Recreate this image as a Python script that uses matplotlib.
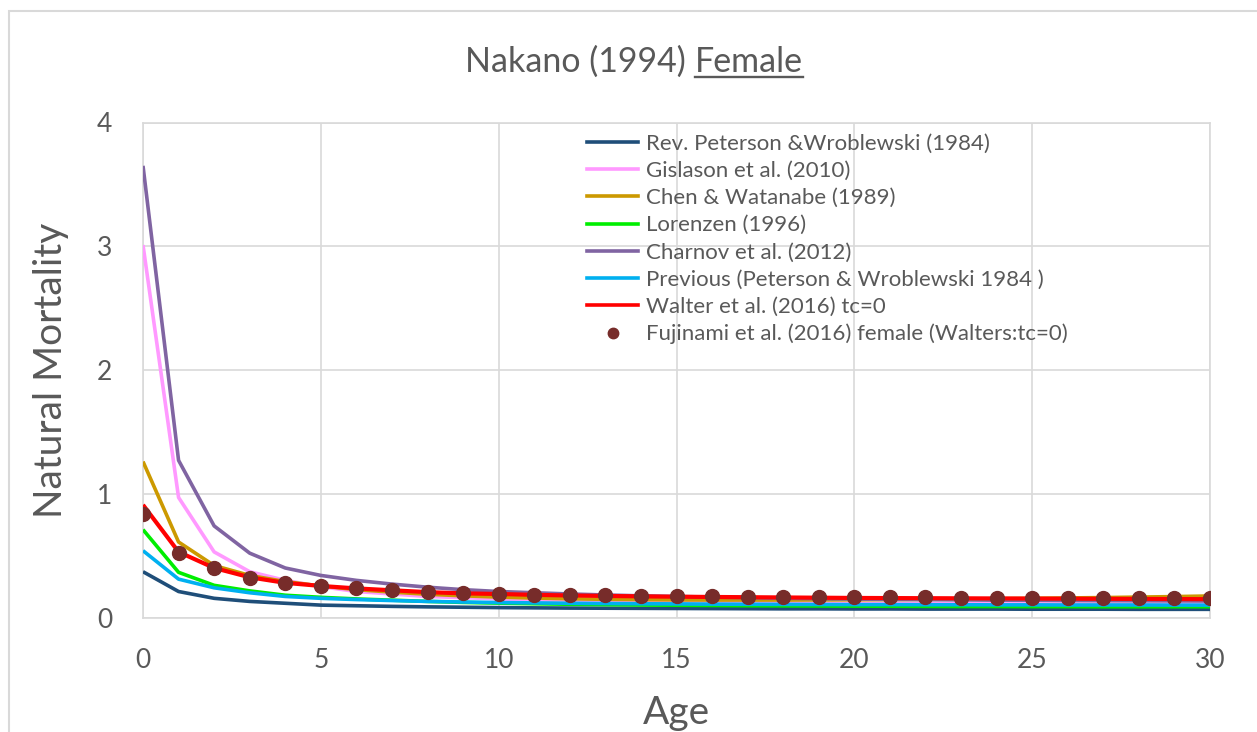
import matplotlib
matplotlib.use("Agg")
import matplotlib.pyplot as plt
from matplotlib.patches import Rectangle
from matplotlib.lines import Line2D

plt.rcParams["font.family"] = ["Lato", "DejaVu Sans"]

ages = list(range(31))

rev_peterson = [0.37, 0.21, 0.155, 0.13, 0.115, 0.10, 0.095, 0.09, 0.086, 0.083, 0.08,
                0.078, 0.076, 0.075, 0.074, 0.073, 0.072, 0.071, 0.07, 0.07, 0.069,
                0.069, 0.068, 0.068, 0.068, 0.067, 0.067, 0.067, 0.066, 0.066, 0.066]
gislason = [3.01, 0.97, 0.53, 0.37, 0.30, 0.25, 0.21, 0.19, 0.17, 0.16, 0.15,
            0.142, 0.136, 0.131, 0.127, 0.124, 0.121, 0.119, 0.117, 0.115, 0.114,
            0.113, 0.112, 0.111, 0.11, 0.109, 0.108, 0.107, 0.107, 0.106, 0.106]
chen_watanabe = [1.26, 0.61, 0.42, 0.34, 0.29, 0.255, 0.225, 0.205, 0.188, 0.175, 0.165,
                 0.157, 0.151, 0.147, 0.144, 0.142, 0.141, 0.141, 0.141, 0.142, 0.143,
                 0.145, 0.147, 0.149, 0.152, 0.155, 0.158, 0.161, 0.165, 0.169, 0.174]
lorenzen = [0.71, 0.365, 0.26, 0.215, 0.18, 0.163, 0.15, 0.14, 0.13, 0.122, 0.116,
            0.111, 0.107, 0.104, 0.101, 0.099, 0.097, 0.095, 0.094, 0.093, 0.092,
            0.091, 0.09, 0.089, 0.089, 0.088, 0.088, 0.087, 0.087, 0.087, 0.087]
charnov = [3.65, 1.27, 0.74, 0.52, 0.40, 0.34, 0.30, 0.27, 0.245, 0.225, 0.21,
           0.2, 0.19, 0.182, 0.175, 0.17, 0.165, 0.16, 0.156, 0.152, 0.149,
           0.146, 0.144, 0.142, 0.14, 0.139, 0.137, 0.136, 0.135, 0.134, 0.133]
previous = [0.54, 0.31, 0.24, 0.20, 0.17, 0.155, 0.145, 0.137, 0.13, 0.125, 0.121,
            0.118, 0.115, 0.113, 0.111, 0.11, 0.108, 0.107, 0.106, 0.105, 0.104,
            0.104, 0.103, 0.103, 0.102, 0.102, 0.101, 0.101, 0.101, 0.1, 0.1]
walter = [0.91, 0.53, 0.40, 0.325, 0.28, 0.255, 0.235, 0.22, 0.205, 0.195, 0.19,
          0.183, 0.178, 0.174, 0.171, 0.168, 0.166, 0.164, 0.162, 0.16, 0.158,
          0.157, 0.156, 0.155, 0.154, 0.153, 0.152, 0.151, 0.15, 0.149, 0.148]
fujinami = [0.84, 0.52, 0.40, 0.32, 0.28, 0.255, 0.235, 0.22, 0.205, 0.195, 0.19,
            0.185, 0.18, 0.178, 0.175, 0.172, 0.17, 0.168, 0.166, 0.165, 0.164,
            0.163, 0.162, 0.161, 0.161, 0.16, 0.16, 0.16, 0.16, 0.16, 0.16]

series = [
    ("Rev. Peterson &Wroblewski (1984)", rev_peterson, "#1f4e79", 2.6),
    ("Gislason et al. (2010)", gislason, "#ff99ff", 2.6),
    ("Chen & Watanabe (1989)", chen_watanabe, "#cc9900", 2.6),
    ("Lorenzen (1996)", lorenzen, "#00ee00", 2.6),
    ("Charnov et al. (2012)", charnov, "#8064a2", 2.6),
    ("Previous (Peterson & Wroblewski 1984 )", previous, "#00b0f0", 2.6),
    ("Walter et al. (2016) tc=0", walter, "#ff0000", 3.0),
]
dot_label = "Fujinami et al. (2016) female (Walters:tc=0)"

text_color = "#595959"
grid_color = "#d9d9d9"

W, H = 1257, 732
fig = plt.figure(figsize=(W / 100, H / 100), dpi=100)

# chart area border (Excel style), runs off the right/bottom edges
fig.patches.append(Rectangle((9 / W, -0.1), 1.2, 1 - 11 / H + 0.1, transform=fig.transFigure,
                             fill=False, edgecolor=grid_color, linewidth=1.5))

ax = fig.add_axes((143 / W, 1 - 617.5 / H, (1210 - 143) / W, (617.5 - 122.5) / H))

handles = []
for label, vals, color, lw in series:
    ax.plot(ages, vals, color=color, lw=lw, solid_capstyle="butt", zorder=3)
    handles.append(Line2D([], [], color=color, lw=2.6, label=label))
ax.plot(ages, fujinami, ls="none", marker="o", ms=10, color="#772c2a", zorder=4)
handles.append(Line2D([], [], ls="none", marker="o", ms=7.5, color="#772c2a", label=dot_label))

ax.set_xlim(0, 30)
ax.set_ylim(0, 4)
ax.set_xticks(range(0, 31, 5))
ax.set_yticks(range(0, 5))
ax.grid(True, color=grid_color, lw=1.2)
ax.set_axisbelow(True)
for sp in ax.spines.values():
    sp.set_color(grid_color)
    sp.set_linewidth(1.2)
ax.tick_params(length=0, labelsize=19, colors=text_color, pad=22)

ax.set_xlabel("Age", fontsize=28, color=text_color, labelpad=16)
ax.set_ylabel("Natural Mortality", fontsize=28, color=text_color, labelpad=20)

leg = ax.legend(handles=handles, loc="upper left", bbox_to_anchor=(587 / W, 1 - 134 / H),
                bbox_transform=fig.transFigure, frameon=False, fontsize=16,
                labelcolor=text_color, handlelength=2.3, handletextpad=0.36,
                labelspacing=0.32, borderpad=0, borderaxespad=0)

# title with underlined "Female"
fig.canvas.draw()
r = fig.canvas.get_renderer()
tkw = dict(fontsize=24.5, color=text_color, va="baseline")
t1 = fig.text(0, 0, "Nakano (1994) ", **tkw)
t2 = fig.text(0, 0, "Female", **tkw)
w1 = t1.get_window_extent(r).width
w2 = t2.get_window_extent(r).width
cx, base = 634, H - 72
x0 = cx - (w1 + w2) / 2
t1.set_position((x0 / W, base / H))
t2.set_position(((x0 + w1) / W, base / H))
fig.add_artist(Line2D([(x0 + w1) / W, (x0 + w1 + w2) / W], [(base - 4.5) / H, (base - 4.5) / H],
                      color=text_color, lw=1.7, transform=fig.transFigure))

fig.savefig("out.png", dpi=100)
